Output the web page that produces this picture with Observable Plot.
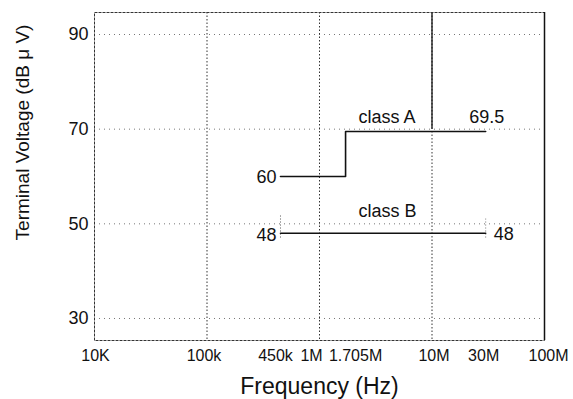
<!DOCTYPE html>
<html><head><meta charset="utf-8">
<script src="https://cdn.jsdelivr.net/npm/d3@7"></script>
<script src="https://cdn.jsdelivr.net/npm/@observablehq/plot@0.6"></script>
<style>body{margin:0;background:#fff;}</style>
</head><body><div id="chart"></div>
<script>
// Data
const classAFreq = [450e3, 1.705e6, 1.705e6, 30e6];
const classALevel = [60, 60, 69.5, 69.5];
const classBFreq = [450e3, 30e6];
const classBLevel = [48, 48];
const xTicks = [1e4, 1e5, 4.5e5, 1e6, 1.705e6, 1e7, 3e7, 1e8];
const xTickLabels = ["10K", "100k", "450k", "1M", "1.705M", "10M", "30M", "100M"];
const yTicks = [30, 50, 70, 90];
const xGrid = [1e5, 1e6, 1e7];

const classA = classAFreq.map((f, i) => ({f, v: classALevel[i]}));
const classB = classBFreq.map((f, i) => ({f, v: classBLevel[i]}));

const xShift = [1, -3, -5, -8, 10, 2, -2, 4];
const yTop = 94.65, yBot = 25.35;

const font = "'Liberation Sans', Arial, Helvetica, sans-serif";

const tickLabelMarks = xTicks.map((t, i) => Plot.text([t], {
  x: d => d, text: () => xTickLabels[i], frameAnchor: "bottom", lineAnchor: "middle",
  dy: 15, dx: xShift[i], fontSize: 16, fill: "#111"
}));

const chart = Plot.plot({
  width: 573, height: 399,
  marginLeft: 94, marginRight: 29, marginTop: 12, marginBottom: 59,
  style: {fontFamily: font, background: "white", color: "#111"},
  x: {type: "log", domain: [1e4, 1e8], axis: null},
  y: {domain: [yBot, yTop], axis: null},
  marks: [
    Plot.ruleY(yTicks, {stroke: "#777", strokeDasharray: "1,4", strokeWidth: 1}),
    Plot.ruleX(xGrid, {stroke: "#333", strokeDasharray: "1.5,2", strokeWidth: 1}),
    Plot.ruleX([1e7], {y1: 70, y2: yTop, stroke: "#111", strokeWidth: 1.3}),
    Plot.ruleX([4.5e5], {y1: 47, y2: 52, stroke: "#555", strokeDasharray: "1,2"}),
    Plot.ruleX([3e7], {y1: 47, y2: 51, stroke: "#777", strokeDasharray: "1,2"}),
    Plot.frame({stroke: "#333", strokeDasharray: "3,1"}),
    Plot.ruleX([1e8], {stroke: "#111", strokeWidth: 1.5}),
    Plot.line(classA, {x: "f", y: "v", stroke: "#111", strokeWidth: 1.6}),
    Plot.line(classB, {x: "f", y: "v", stroke: "#111", strokeWidth: 1.6}),
    // y tick labels
    Plot.text(yTicks, {x: 1e4, y: d => d, text: d => String(d), textAnchor: "end", dx: -6, fontSize: 18, fill: "#111"}),
    // x tick labels
    ...tickLabelMarks,
    // annotations
    Plot.text(["60"], {x: () => classAFreq[0], y: () => classALevel[0], textAnchor: "end", dx: -4, dy: 1, fontSize: 18, fill: "#111"}),
    Plot.text(["48"], {x: () => classBFreq[0], y: () => classBLevel[0], textAnchor: "end", dx: -4, dy: 2, fontSize: 18, fill: "#111"}),
    Plot.text(["class A"], {x: () => classAFreq[1], y: () => classALevel[2], textAnchor: "start", dx: 13, dy: -14, fontSize: 18, fill: "#111"}),
    Plot.text(["69.5"], {x: () => classAFreq[3], y: () => classALevel[3], textAnchor: "middle", dx: 1, dy: -14, fontSize: 18, fill: "#111"}),
    Plot.text(["class B"], {x: () => classAFreq[1], y: () => classBLevel[1], textAnchor: "start", dx: 13, dy: -22, fontSize: 18, fill: "#111"}),
    Plot.text(["48"], {x: () => classBFreq[1], y: () => classBLevel[1], textAnchor: "start", dx: 8, dy: 1, fontSize: 18, fill: "#111"}),
    // axis titles
    Plot.text(["Frequency (Hz)"], {frameAnchor: "bottom", lineAnchor: "middle", dy: 46, fontSize: 23, fill: "#111"}),
    Plot.text(["Terminal Voltage (dB \u03BC V)"], {frameAnchor: "left", textAnchor: "middle", lineAnchor: "middle", rotate: -90, dx: -72, dy: -44, fontSize: 19, fill: "#111"})
  ]
});
document.getElementById("chart").append(chart);
</script>
</body></html>
